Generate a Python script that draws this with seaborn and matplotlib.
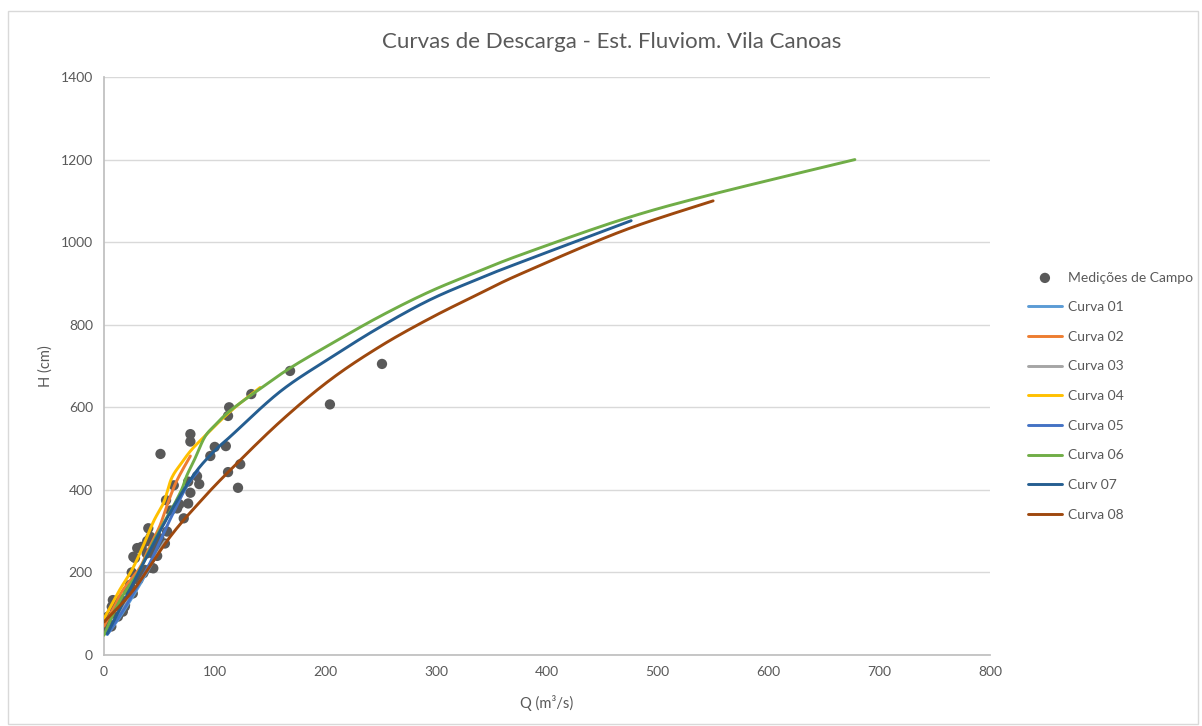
import numpy as np
import pandas as pd
import seaborn as sns
import matplotlib.pyplot as plt
from matplotlib.patches import Rectangle

# medicoes de campo (Q m3/s, H cm)
q_campo = [1, 4, 7, 8, 3.6, 6.6, 9.6, 12.6, 15.6, 18.7, 21.7, 19, 26, 23.5, 14.5, 31, 32.5,
           35.5, 37, 43, 44.5, 28, 26.5, 30, 34, 38.5, 39, 42, 40, 44, 55, 57, 66, 72, 76, 76,
           78, 63, 56, 51, 84, 86, 96, 100, 110, 112, 121, 123, 78, 78, 112, 113, 133, 168,
           204, 251, 48, 60, 68, 47, 50, 25, 17]
h_campo = [61, 77, 117, 133, 93, 69, 117, 93, 133, 117, 157, 121, 149, 170, 133, 182, 194,
           198, 206, 211, 210, 235, 238, 259, 262, 246, 276, 286, 307, 246, 270, 299, 355, 331,
           367, 420, 393, 411, 375, 487, 433, 414, 482, 504, 506, 443, 405, 462, 535, 517, 579,
           600, 632, 688, 607, 705, 240, 350, 365, 262, 283, 200, 105]

c01_q = [3, 15, 30, 45]
c01_h = [50, 95, 160, 230]
c02_q = [0, 10, 17, 32, 40, 50, 55, 65, 78]
c02_h = [70, 120, 157, 210, 255, 310, 348, 418, 482]
c03_q = [3, 20, 40, 55]
c03_h = [55, 125, 210, 275]
c04_q = [0, 14, 25, 35, 45, 54, 61, 70, 79, 91, 114, 141]
c04_h = [88, 157, 205, 262, 325, 370, 428, 465, 497, 530, 590, 648]
c05_q = [3, 20, 40, 60, 75, 85]
c05_h = [50, 120, 215, 330, 410, 445]
c06_q = [0, 10, 20, 31, 42, 52, 62, 70, 75, 82, 91, 100, 114, 141, 168, 204, 249, 294, 339,
         377, 468, 548, 678]
c06_h = [48, 110, 157, 200, 260, 311, 358, 400, 436, 475, 528, 556, 592, 645, 695, 752, 820,
         880, 930, 970, 1055, 1115, 1200]
c07_q = [3, 37, 61, 82, 100, 114, 159, 204, 249, 294, 339, 374, 476]
c07_h = [52, 230, 351, 440, 495, 529, 638, 719, 794, 860, 912, 949, 1052]
c08_q = [0, 26.5, 59.6, 88, 114, 159, 204, 249, 294, 339.5, 377, 468, 550]
c08_h = [80, 157, 286, 375, 448, 565, 666, 747, 815, 876, 924, 1027, 1100]

curvas = [("Curva 01", c01_q, c01_h, "#5B9BD5"),
          ("Curva 02", c02_q, c02_h, "#ED7D31"),
          ("Curva 03", c03_q, c03_h, "#A5A5A5"),
          ("Curva 04", c04_q, c04_h, "#FFC000"),
          ("Curva 05", c05_q, c05_h, "#4472C4"),
          ("Curva 06", c06_q, c06_h, "#70AD47"),
          ("Curv 07", c07_q, c07_h, "#255E91"),
          ("Curva 08", c08_q, c08_h, "#9E480E")]


def suavizar(q, h, n=16):
    # linha suavizada tipo Excel (catmull-rom entre os pontos lidos)
    p = np.column_stack([q, h]).astype(float)
    p = np.vstack([p[0], p, p[-1]])
    out = []
    t = np.linspace(0, 1, n, endpoint=False)[:, None]
    for i in range(1, len(p) - 2):
        p0, p1, p2, p3 = p[i-1], p[i], p[i+1], p[i+2]
        seg = 0.5 * ((2*p1) + (-p0 + p2)*t + (2*p0 - 5*p1 + 4*p2 - p3)*t**2
                     + (-p0 + 3*p1 - 3*p2 + p3)*t**3)
        out.append(seg)
    out.append(p[-2][None, :])
    out = np.vstack(out)
    return out[:, 0], out[:, 1]


sns.set_theme(style="white")
plt.rcParams['font.family'] = ['Lato', 'DejaVu Sans']
cinza = "#595959"

fig = plt.figure(figsize=(12.02, 7.26), dpi=100)
ax = fig.add_axes([104/1202, 1-655/726, (990-104)/1202, (655-77)/726])
fig.patches.append(Rectangle((8/1202, 2/726), 1190/1202, 713/726, transform=fig.transFigure,
                             fill=False, edgecolor="#D9D9D9", lw=1))

df_campo = pd.DataFrame({"Q": q_campo, "H": h_campo})
sns.scatterplot(data=df_campo, x="Q", y="H", ax=ax, color=cinza, s=55, edgecolor="none",
                label="Medições de Campo", zorder=3)
for nome, q, h, cor in curvas:
    qs, hs = suavizar(q, h)
    d = pd.DataFrame({"Q": qs, "H": hs})
    sns.lineplot(data=d, x="Q", y="H", ax=ax, color=cor, lw=2.1, sort=False, estimator=None,
                 label=nome, zorder=4)

ax.set_xlim(0, 800)
ax.set_ylim(0, 1400)
ax.set_xticks(range(0, 801, 100))
ax.set_yticks(range(0, 1401, 200))
ax.grid(axis="y", color="#D9D9D9", lw=1)
ax.grid(axis="x", visible=False)
for s in ["top", "right"]:
    ax.spines[s].set_visible(False)
for s in ["left", "bottom"]:
    ax.spines[s].set_color("#BFBFBF")
ax.tick_params(length=0, labelsize=10, colors=cinza, pad=8)
ax.set_xlabel("Q (m³/s)", fontsize=10.5, color=cinza, labelpad=12)
ax.set_ylabel("H (cm)", fontsize=10.5, color=cinza, labelpad=6)
fig.text(612/1202, 1-42/726, "Curvas de Descarga - Est. Fluviom. Vila Canoas", ha="center",
         va="center", fontsize=16, color=cinza)

h, l = ax.get_legend_handles_labels()
ax.get_legend().remove()
fig.legend(h, l, loc="upper left", bbox_to_anchor=(1022/1202, 1-266/726), frameon=False,
           fontsize=10, labelcolor=cinza, handlelength=2.5, handletextpad=0.4,
           labelspacing=1.27, borderaxespad=0)

fig.savefig("out.png", dpi=100)
